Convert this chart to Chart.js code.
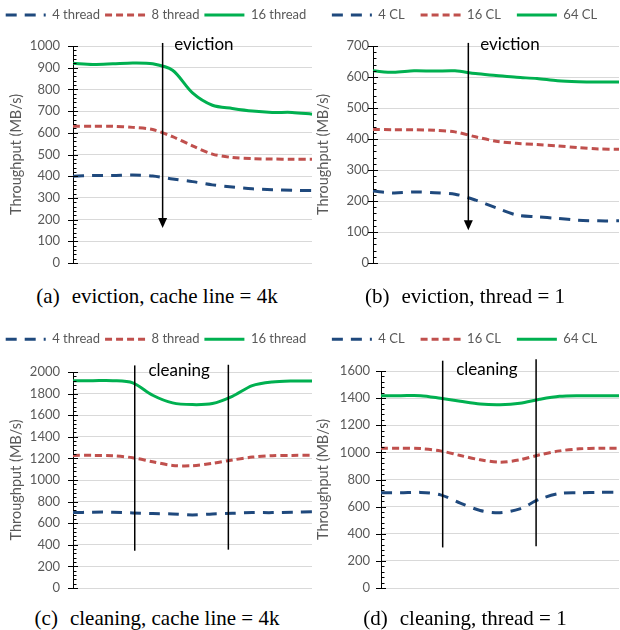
<!DOCTYPE html>
<html>
<head>
<meta charset="utf-8">
<script src="https://cdn.jsdelivr.net/npm/chart.js@4.4.0/dist/chart.umd.min.js"></script>
<style>
  body { margin: 0; width: 620px; height: 630px; background: #fff; position: relative; overflow: hidden; }
  canvas { position: absolute; }
  .caption { position: absolute; font-family: "Liberation Serif", serif; font-size: 21px; line-height: 24px; color: #000; white-space: nowrap; transform: translateX(-50%); }
  .caption span { margin-left: 12px; }
</style>
</head>
<body>
<canvas id="chartA" width="320" height="272" style="left:0;top:0"></canvas>
<canvas id="chartB" width="310" height="272" style="left:310px;top:0"></canvas>
<canvas id="chartC" width="320" height="277" style="left:0;top:320px"></canvas>
<canvas id="chartD" width="310" height="277" style="left:310px;top:320px"></canvas>
<div class="caption" style="left:157px;top:284px">(a)<span>eviction, cache line = 4k</span></div>
<div class="caption" style="left:465px;top:284px">(b)<span>eviction, thread = 1</span></div>
<div class="caption" style="left:157px;top:606px">(c)<span>cleaning, cache line = 4k</span></div>
<div class="caption" style="left:465px;top:606px">(d)<span>cleaning, thread = 1</span></div>
<script>
// DATA
var points = ["1", "2", "3", "4", "5", "6", "7", "8", "9", "10", "11", "12", "13"];
var threadLabels = ["4 thread", "8 thread", "16 thread"];
var clLabels = ["4 CL", "16 CL", "64 CL"];

var evictThread4 = [400, 403, 403, 405, 401, 387, 375, 360, 350, 342, 338, 335, 334];
var evictThread8 = [630, 630, 630, 625, 615, 582, 540, 502, 486, 481, 479, 478, 478];
var evictThread16 = [920, 915, 918, 922, 918, 888, 784, 727, 712, 700, 694, 694, 686];

var evictCL4 = [232, 226, 229, 227, 222, 203, 178, 155, 149, 144, 138, 136, 136];
var evictCL16 = [431, 430, 430, 428, 423, 407, 393, 386, 382, 378, 372, 368, 367];
var evictCL64 = [620, 615, 620, 619, 620, 611, 605, 599, 595, 588, 585, 584, 584];

var cleanThread4 = [698, 702, 702, 695, 689, 686, 677, 686, 692, 698, 698, 702, 705];
var cleanThread8 = [1228, 1228, 1225, 1206, 1169, 1135, 1132, 1154, 1185, 1212, 1225, 1228, 1228];
var cleanThread16 = [1920, 1920, 1920, 1900, 1785, 1714, 1698, 1708, 1775, 1874, 1908, 1917, 1917];

var cleanCL4 = [702, 702, 705, 687, 626, 572, 555, 584, 655, 697, 702, 705, 705];
var cleanCL16 = [1031, 1031, 1028, 1011, 977, 945, 928, 945, 982, 1011, 1026, 1031, 1031];
var cleanCL64 = [1418, 1418, 1418, 1399, 1377, 1357, 1352, 1362, 1391, 1413, 1418, 1418, 1418];

var lineColors = ["#1f497d", "#c0504d", "#00b050"];
var lineDashes = [[11, 8], [7, 4], []];

// LEGEND: fixed box height and text row position
var legendBox = {
  id: "legendBox",
  beforeInit: function (chart) {
    var legend = chart.legend;
    var fit = legend.fit;
    legend.fit = function () {
      fit.call(legend);
      legend.height = chart.options.plugins.legendBox.height;
    };
  },
  afterLayout: function (chart, args, opts) {
    var legend = chart.legend;
    var shift = opts.textY - (legend.top + legend.options.labels.padding + 6.5);
    legend.top += shift;
    legend.bottom += shift;
  }
};

// AXIS TICKS, MARKER LINES AND LABEL
var marks = {
  id: "marks",
  afterDatasetsDraw: function (chart, args, opts) {
    var ctx = chart.ctx;
    var xs = chart.scales.x;
    var ys = chart.scales.y;
    var axisX = chart.chartArea.left;
    ctx.save();
    ctx.strokeStyle = "#000";
    ctx.fillStyle = "#000";
    ctx.lineWidth = 1;
    var minor = opts.step / 5;
    for (var k = 0; k * minor <= ys.max + 1e-6; k++) {
      var py = Math.round(ys.getPixelForValue(k * minor)) + 0.5;
      var major = k % 5 === 0;
      ctx.beginPath();
      ctx.moveTo(axisX - (major ? 5 : 0), py);
      ctx.lineTo(axisX + (major ? 5 : 3.5), py);
      ctx.stroke();
    }
    ctx.lineWidth = 1.5;
    opts.lines.forEach(function (l) {
      var px = xs.getPixelForValue(l.x);
      var top = ys.getPixelForValue(l.from);
      var bottom = ys.getPixelForValue(l.to);
      ctx.beginPath();
      ctx.moveTo(px, top);
      ctx.lineTo(px, l.arrow ? bottom - 8 : bottom);
      ctx.stroke();
      if (l.arrow) {
        ctx.beginPath();
        ctx.moveTo(px - 4.5, bottom - 10);
        ctx.lineTo(px + 4.5, bottom - 10);
        ctx.lineTo(px, bottom);
        ctx.closePath();
        ctx.fill();
      }
    });
    ctx.font = "17px Lato";
    ctx.textAlign = "center";
    ctx.textBaseline = "middle";
    ctx.fillText(opts.text, xs.getPixelForValue(opts.textX), ys.getPixelForValue(opts.textY));
    ctx.restore();
  }
};

function makeChart(id, labels, series, s) {
  return new Chart(id, {
    type: "line",
    data: {
      labels: points,
      datasets: series.map(function (values, i) {
        return {
          label: labels[i],
          data: values,
          borderColor: lineColors[i],
          backgroundColor: lineColors[i],
          borderDash: lineDashes[i],
          borderWidth: 3,
          pointRadius: 0,
          tension: 0.3,
          fill: false
        };
      })
    },
    options: {
      responsive: false,
      animation: false,
      layout: { padding: { left: 0, right: s.padRight, top: 0, bottom: 9 } },
      plugins: {
        tooltip: { enabled: false },
        legendBox: { height: s.legendHeight, textY: s.legendY },
        marks: s.marks,
        legend: {
          position: "top",
          labels: {
            usePointStyle: true,
            pointStyle: "line",
            pointStyleWidth: 40,
            padding: s.legendPad,
            color: "#595959",
            font: { family: "Lato", size: 13 },
            generateLabels: function (chart) {
              return Chart.defaults.plugins.legend.labels.generateLabels(chart).map(function (item) {
                var ds = chart.data.datasets[item.datasetIndex];
                item.lineDash = ds.borderDash;
                item.lineWidth = 3;
                item.strokeStyle = ds.borderColor;
                return item;
              });
            }
          }
        }
      },
      scales: {
        x: { display: false },
        y: {
          min: 0,
          max: s.max,
          afterFit: function (scale) {
            scale.width = s.axisWidth;
            scale.paddingTop = 0;
            scale.paddingBottom = 0;
          },
          ticks: {
            stepSize: s.step,
            color: "#595959",
            font: { family: "Lato", size: 13 },
            padding: s.tickPad,
            callback: function (value) { return String(value); }
          },
          grid: { color: "#d9d9d9", drawTicks: false },
          border: { color: "#000", width: 1 },
          title: {
            display: true,
            text: "Throughput (MB/s)",
            color: "#595959",
            font: { family: "Lato", size: 14.5 },
            padding: { top: s.titlePad, bottom: 0 }
          }
        }
      }
    },
    plugins: [legendBox, marks]
  });
}

makeChart("chartA", threadLabels, [evictThread4, evictThread8, evictThread16], {
  max: 1000, step: 100, padRight: 8, legendHeight: 46, legendY: 15, legendPad: 5,
  axisWidth: 73, tickPad: 13, titlePad: 8,
  marks: { step: 100, lines: [{ x: 4.5, from: 1014, to: 161, arrow: true }], text: "eviction", textX: 6.57, textY: 1005 }
});

makeChart("chartB", clLabels, [evictCL4, evictCL16, evictCL64], {
  max: 700, step: 100, padRight: 1, legendHeight: 46, legendY: 15, legendPad: 16,
  axisWidth: 63, tickPad: 4, titlePad: 5,
  marks: { step: 100, lines: [{ x: 4.65, from: 710, to: 106, arrow: true }], text: "eviction", textX: 6.68, textY: 706 }
});

makeChart("chartC", threadLabels, [cleanThread4, cleanThread8, cleanThread16], {
  max: 2000, step: 200, padRight: 8, legendHeight: 52, legendY: 19.3, legendPad: 5,
  axisWidth: 73, tickPad: 13, titlePad: 8,
  marks: { step: 200, lines: [{ x: 3.1, from: 2061, to: 345 }, { x: 7.8, from: 2067, to: 355 }], text: "cleaning", textX: 5.33, textY: 2018 }
});

makeChart("chartD", clLabels, [cleanCL4, cleanCL16, cleanCL64], {
  max: 1600, step: 200, padRight: 1, legendHeight: 51, legendY: 19.3, legendPad: 16,
  axisWidth: 71, tickPad: 11, titlePad: 5,
  marks: { step: 200, lines: [{ x: 3.11, from: 1676, to: 299 }, { x: 7.82, from: 1686, to: 307 }], text: "cleaning", textX: 5.34, textY: 1612 }
});
</script>
</body>
</html>
